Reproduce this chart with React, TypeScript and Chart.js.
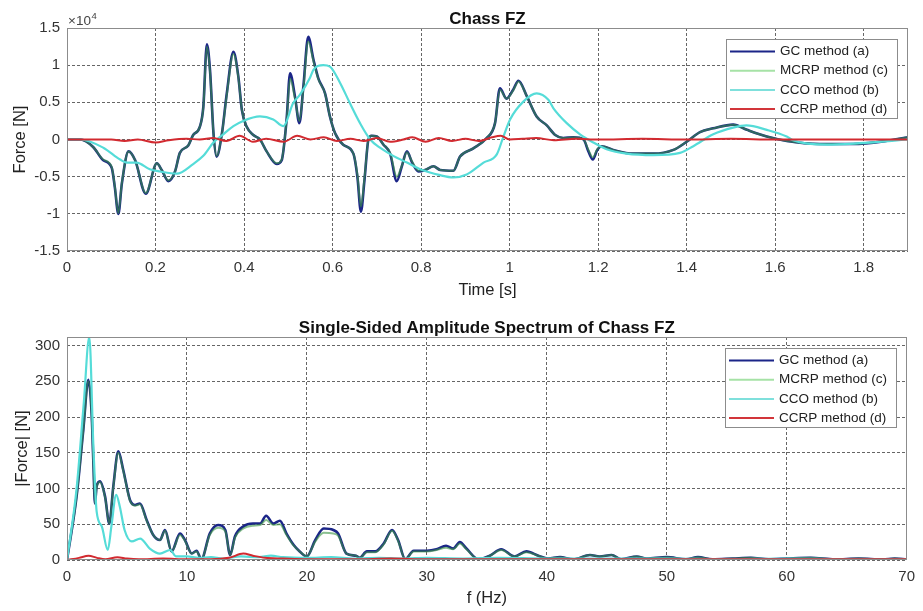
import React, { useEffect, useRef } from "react";
import { Chart, registerables } from "chart.js";

Chart.register(...registerables);

const FONT = '"Liberation Sans", Arial, Helvetica, sans-serif';

// ---------- Top chart: Chass FZ (force in units of 1e4 N) ----------
const timeTicks = [0, 0.2, 0.4, 0.6, 0.8, 1, 1.2, 1.4, 1.6, 1.8];
const forceTicks = [-1.5, -1, -0.5, 0, 0.5, 1, 1.5];

const gcTime = [
  0, 0.03, 0.059, 0.082, 0.101, 0.108, 0.116, 0.124, 0.139, 0.154, 0.178, 0.203, 0.214, 0.229, 0.244, 0.255,
  0.274, 0.285, 0.3, 0.308, 0.316, 0.323, 0.331, 0.338, 0.35, 0.361, 0.376, 0.387, 0.395, 0.406, 0.421, 0.436,
  0.451, 0.474, 0.485, 0.496, 0.504, 0.515, 0.525, 0.534, 0.545, 0.557, 0.568, 0.583, 0.594, 0.606, 0.624, 0.647,
  0.656, 0.664, 0.672, 0.681, 0.688, 0.7, 0.715, 0.73, 0.745, 0.756, 0.768, 0.779, 0.794, 0.809, 0.828, 0.843,
  0.873, 0.888, 0.918, 0.948, 0.967, 0.978, 0.993, 1.008, 1.02, 1.039, 1.061, 1.084, 1.103, 1.121, 1.144, 1.167,
  1.178, 1.188, 1.198, 1.208, 1.234, 1.279, 1.325, 1.37, 1.4, 1.43, 1.46, 1.505, 1.536, 1.581, 1.626, 1.7,
  1.776, 1.85, 1.9,
];
const gcForce = [
  0, 0, -0.1, -0.28, -0.38, -0.64, -1.0, -0.59, -0.16, -0.28, -0.73, -0.32, -0.41, -0.56, -0.43, -0.18,
  -0.08, 0.06, 0.17, 0.44, 1.28, 0.94, 0.08, -0.23, 0.08, 0.62, 1.18, 0.85, 0.4, 0.17, 0.06, 0.0,
  -0.16, -0.33, -0.28, 0.26, 0.89, 0.58, 0.22, 0.71, 1.38, 1.07, 0.82, 0.62, 0.31, 0.08, -0.07, -0.19,
  -0.5, -0.97, -0.55, 0.0, 0.05, 0.04, -0.07, -0.19, -0.56, -0.37, -0.16, -0.3, -0.43, -0.41, -0.36, -0.41,
  -0.42, -0.23, -0.12, 0.02, 0.22, 0.69, 0.55, 0.67, 0.79, 0.58, 0.31, 0.19, 0.06, 0.02, 0.03, 0.0,
  -0.16, -0.27, -0.14, -0.09, -0.14, -0.19, -0.19, -0.14, -0.03, 0.1, 0.15, 0.2, 0.13, 0.04, -0.02, -0.06,
  -0.06, -0.02, 0.03,
];
const mcrpForce = [
  0, 0, -0.1, -0.27, -0.37, -0.63, -0.99, -0.58, -0.16, -0.28, -0.72, -0.32, -0.41, -0.55, -0.43, -0.18,
  -0.08, 0.06, 0.17, 0.43, 1.25, 0.92, 0.08, -0.22, 0.08, 0.6, 1.15, 0.84, 0.4, 0.17, 0.06, 0.0,
  -0.16, -0.32, -0.27, 0.25, 0.82, 0.55, 0.25, 0.68, 1.32, 1.05, 0.81, 0.62, 0.31, 0.08, -0.07, -0.19,
  -0.47, -0.9, -0.52, 0.0, 0.05, 0.04, -0.07, -0.18, -0.5, -0.36, -0.17, -0.29, -0.42, -0.41, -0.36, -0.41,
  -0.42, -0.23, -0.12, 0.02, 0.22, 0.67, 0.55, 0.66, 0.78, 0.58, 0.31, 0.19, 0.06, 0.02, 0.03, 0.0,
  -0.14, -0.24, -0.13, -0.09, -0.14, -0.19, -0.19, -0.14, -0.03, 0.1, 0.15, 0.2, 0.13, 0.04, -0.02, -0.06,
  -0.06, -0.02, 0.03,
];
const ccoTime = [
  0, 0.03, 0.082, 0.12, 0.135, 0.157, 0.187, 0.21, 0.248, 0.285, 0.308, 0.331, 0.353, 0.376, 0.398, 0.436,
  0.466, 0.489, 0.511, 0.526, 0.549, 0.557, 0.579, 0.594, 0.617, 0.639, 0.662, 0.685, 0.707, 0.737, 0.768, 0.798,
  0.843, 0.873, 0.903, 0.941, 0.971, 0.986, 1.001, 1.031, 1.061, 1.088, 1.099, 1.129, 1.159, 1.189, 1.219, 1.264,
  1.325, 1.385, 1.415, 1.46, 1.505, 1.535, 1.581, 1.626, 1.64, 1.717, 1.79, 1.9,
];
const ccoForce = [
  0, 0, -0.11, -0.27, -0.31, -0.31, -0.4, -0.43, -0.46, -0.33, -0.22, -0.04, 0.07, 0.18, 0.25, 0.31,
  0.27, 0.18, 0.49, 0.6, 0.83, 0.94, 1.0, 0.98, 0.76, 0.49, 0.22, 0.0, -0.11, -0.22, -0.31, -0.4,
  -0.48, -0.51, -0.47, -0.31, -0.2, 0.04, 0.27, 0.51, 0.62, 0.53, 0.42, 0.22, 0.07, -0.04, -0.13, -0.19,
  -0.21, -0.18, -0.09, 0.07, 0.16, 0.19, 0.13, 0.04, -0.01, -0.07, -0.05, 0.0,
];
const ccrpTime = [
  0, 0.1, 0.13, 0.16, 0.2, 0.23, 0.27, 0.3, 0.33, 0.36, 0.39, 0.42, 0.45, 0.49, 0.52, 0.55,
  0.58, 0.61, 0.64, 0.67, 0.7, 0.73, 0.76, 0.78, 0.81, 0.84, 0.87, 0.9, 0.93, 0.96, 0.98, 1.0,
  1.03, 1.06, 1.1, 1.15, 1.2, 1.3, 1.4, 1.5, 1.6, 1.7, 1.8, 1.9,
];
const ccrpForce = [
  0, 0, -0.02, 0.0, -0.04, -0.01, 0.01, 0.0, 0.02, -0.02, 0.05, -0.03, 0.01, -0.03, 0.05, 0.0,
  0.03, -0.02, 0.01, -0.02, 0.02, -0.03, 0.0, 0.03, -0.03, 0.02, -0.02, 0.01, -0.02, 0.03, 0.05, 0.0,
  0.01, 0.02, -0.01, 0.01, 0.0, 0.01, 0.0, 0.01, 0.0, 0.0, 0.0, 0.0,
];

// ---------- Bottom chart: amplitude spectrum ----------
const freqTicks = [0, 10, 20, 30, 40, 50, 60, 70];
const ampTicks = [0, 50, 100, 150, 200, 250, 300];

const gcFreq = [
  0, 0.8, 1.36, 1.78, 2.05, 2.2, 2.33, 2.47, 2.75, 3.17, 3.53, 3.86, 4.28, 4.69, 5.25, 5.67,
  6.08, 6.64, 7.19, 7.75, 8.17, 8.72, 9.42, 9.83, 10.4, 10.8, 11.2, 11.9, 12.6, 13.2, 13.6, 14.0,
  14.7, 15.5, 16.1, 16.6, 17.2, 17.75, 18.3, 18.9, 19.4, 20.0, 20.7, 21.4, 22.2, 22.6, 23.3, 24.1,
  24.4, 25.0, 25.7, 26.4, 27.1, 27.6, 28.2, 28.9, 30.0, 30.8, 31.6, 32.2, 32.75, 33.3, 34.3, 35.25,
  36.2, 37.3, 38.3, 39.3, 40.1, 41.1, 42.2, 43.6, 44.4, 45.4, 46.2, 47.5, 48.3, 50, 51.6, 52.6,
  53.8, 55.5, 57, 58.5, 60, 62, 64, 66, 68, 69, 70,
];
const gcAmp = [
  0, 89, 182, 252, 206, 135, 79, 103, 110, 89, 51, 103, 152, 126, 84, 77,
  79, 56, 35, 28, 42, 12, 37, 28, 9, 13, 1, 37, 49, 42, 7, 33,
  47, 51, 51, 62, 51, 55, 37, 21, 12, 5, 28, 44, 42, 37, 9, 6,
  3, 12, 12, 23, 42, 28, 1, 13, 13, 15, 20, 16, 25, 16, 1, 6,
  15, 5, 12, 6, 2, 4, 1, 7, 5, 7, 1, 5, 2, 4, 1, 4,
  1, 2, 3, 1, 2, 3, 1, 2, 1, 2, 1,
];
const mcrpAmp = [
  0, 89, 182, 250, 205, 135, 79, 102, 109, 88, 51, 102, 150, 125, 83, 76,
  78, 55, 35, 28, 41, 12, 35, 27, 9, 12, 1, 35, 45, 40, 7, 31,
  44, 48, 49, 56, 49, 50, 35, 20, 12, 5, 26, 38, 37, 34, 9, 6,
  3, 11, 11, 22, 41, 27, 1, 12, 12, 14, 17, 15, 23, 15, 1, 6,
  14, 5, 11, 6, 2, 4, 1, 7, 5, 7, 1, 5, 2, 4, 1, 4,
  1, 2, 3, 1, 2, 3, 1, 2, 1, 2, 1,
];
const ccoFreq = [
  0, 0.8, 1.4, 1.86, 2.2, 2.47, 2.9, 3.4, 3.7, 4.1, 4.4, 4.8, 5.4, 6.1, 6.9, 7.75,
  8.6, 9.1, 10, 11, 12, 13, 14.5, 16, 17, 18, 20, 22, 24, 26, 28, 30,
  33, 36, 40, 45, 50, 55, 60, 65, 70,
];
const ccoAmp = [
  0, 100, 220, 312, 159, 68, 47, 14, 47, 91, 75, 42, 26, 30, 16, 9,
  14, 5, 5, 3, 4, 2, 5, 4, 6, 4, 3, 4, 2, 3, 2, 3,
  2, 3, 2, 2, 2, 1, 2, 1, 1,
];
const ccrpFreq = [0, 1.0, 1.8, 2.5, 3.2, 4.2, 5.0, 6, 8, 10, 12, 13.5, 14.7, 15.5, 16.5, 18, 20, 24, 27, 30, 40, 50, 60, 70];
const ccrpAmp = [0, 3, 6, 3, 1, 4, 2, 1, 2, 1, 1, 3, 9, 6, 3, 2, 1, 1, 2, 1, 1, 1, 1, 1];

const seriesNames = ["GC method (a)", "MCRP method (c)", "CCO method (b)", "CCRP method (d)"];
const seriesColors = ["#1b2588", "rgba(60,150,70,0.6)", "#55dcd8", "#d22a30"];
const legendColors = ["#1b2588", "#a6e2a6", "#7fe0dc", "#d2353a"];
const seriesWidths = [2.6, 2, 2.2, 2];

const toPts = (xs: number[], ys: number[]) => xs.map((x, i) => ({ x, y: ys[i] }));

function makeDatasets(groups: { x: number[]; y: number[] }[]) {
  return groups.map((g, i) => ({
    label: seriesNames[i],
    data: toPts(g.x, g.y),
    borderColor: seriesColors[i],
    backgroundColor: seriesColors[i],
    borderWidth: seriesWidths[i],
    pointRadius: 0,
    fill: false,
    cubicInterpolationMode: "monotone" as const,
    order: 4 - i,
  }));
}

function framePlugin(title: string, exponent: boolean) {
  return {
    id: "frameLegend",
    afterDraw(chart: any) {
      const { ctx, chartArea: a } = chart;
      ctx.save();
      // box
      ctx.strokeStyle = "#8c8c8c";
      ctx.lineWidth = 1;
      ctx.strokeRect(Math.round(a.left) + 0.5, Math.round(a.top) + 0.5, Math.round(a.right - a.left) - 1, Math.round(a.bottom - a.top) - 1);
      // title
      ctx.fillStyle = "#111";
      ctx.font = `bold 17px ${FONT}`;
      ctx.textAlign = "center";
      ctx.textBaseline = "alphabetic";
      ctx.fillText(title, (a.left + a.right) / 2, a.top - 4);
      // exponent
      if (exponent) {
        ctx.fillStyle = "#444";
        ctx.textAlign = "left";
        ctx.font = `13.5px ${FONT}`;
        ctx.fillText("\u00d710", a.left + 1, a.top - 3);
        const w = ctx.measureText("\u00d710").width;
        ctx.font = `9.5px ${FONT}`;
        ctx.fillText("4", a.left + 1 + w + 0.5, a.top - 9);
      }
      // legend
      const bw = 171;
      const bh = 79;
      const bx = Math.round(a.right - 11 - bw);
      const by = Math.round(a.top + 11);
      ctx.fillStyle = "#fff";
      ctx.fillRect(bx, by, bw, bh);
      ctx.strokeStyle = "#8c8c8c";
      ctx.lineWidth = 1;
      ctx.strokeRect(bx + 0.5, by + 0.5, bw, bh);
      ctx.font = `13.5px ${FONT}`;
      ctx.textBaseline = "middle";
      ctx.textAlign = "left";
      seriesNames.forEach((name, i) => {
        const cy = by + 12.5 + i * 19.2;
        ctx.strokeStyle = legendColors[i];
        ctx.lineWidth = 2;
        ctx.beginPath();
        ctx.moveTo(bx + 4, cy);
        ctx.lineTo(bx + 49, cy);
        ctx.stroke();
        ctx.fillStyle = "#222";
        ctx.fillText(name, bx + 54, cy);
      });
      ctx.restore();
    },
  };
}

function axisOpts(p: {
  min: number;
  max: number;
  ticks: number[];
  title: string;
  isX: boolean;
  size: number;
  titlePad: number;
}) {
  return {
    type: "linear" as const,
    min: p.min,
    max: p.max,
    afterBuildTicks: (s: any) => {
      s.ticks = p.ticks.map((v) => ({ value: v }));
    },
    afterFit: (s: any) => {
      if (p.isX) s.height = p.size;
      else s.width = p.size;
    },
    grid: { color: "rgba(0,0,0,0.6)", lineWidth: 1, drawTicks: false },
    border: { display: false, dash: [3, 2] },
    ticks: {
      padding: p.isX ? 8 : 7,
      color: "#333",
      autoSkip: false,
      maxRotation: 0,
      font: { family: FONT, size: 15 },
      callback: (v: any) => String(v),
    },
    title: {
      display: true,
      text: p.title,
      color: "#222",
      font: { family: FONT, size: 16.5 },
      padding: p.isX ? { top: 0, bottom: p.titlePad } : { top: p.titlePad, bottom: 0 },
    },
  };
}

function PlotCanvas({ top, height, build }: { top: number; height: number; build: () => any }) {
  const ref = useRef<HTMLCanvasElement>(null);
  useEffect(() => {
    const chart = new Chart(ref.current as HTMLCanvasElement, build());
    return () => chart.destroy();
  }, []);
  return (
    <canvas
      ref={ref}
      width={923}
      height={height}
      style={{ position: "absolute", left: 0, top, width: 923, height }}
    />
  );
}

function buildTop() {
  return {
    type: "line",
    data: {
      datasets: makeDatasets([
        { x: gcTime, y: gcForce },
        { x: gcTime, y: mcrpForce },
        { x: ccoTime, y: ccoForce },
        { x: ccrpTime, y: ccrpForce },
      ]),
    },
    options: {
      responsive: false,
      animation: false,
      devicePixelRatio: 1,
      layout: { padding: { top: 28, right: 15, left: 0, bottom: 0 } },
      plugins: { legend: { display: false }, tooltip: { enabled: false }, title: { display: false } },
      scales: {
        x: axisOpts({ min: 0, max: 1.9, ticks: timeTicks, title: "Time [s]", isX: true, size: 49, titlePad: 0 }),
        y: axisOpts({ min: -1.5, max: 1.5, ticks: forceTicks, title: "Force [N]", isX: false, size: 67, titlePad: 11 }),
      },
    },
    plugins: [framePlugin("Chass FZ", true)],
  };
}

function buildBottom() {
  return {
    type: "line",
    data: {
      datasets: makeDatasets([
        { x: gcFreq, y: gcAmp },
        { x: gcFreq, y: mcrpAmp },
        { x: ccoFreq, y: ccoAmp },
        { x: ccrpFreq, y: ccrpAmp },
      ]),
    },
    options: {
      responsive: false,
      animation: false,
      devicePixelRatio: 1,
      layout: { padding: { top: 37, right: 15, left: 0, bottom: 0 } },
      plugins: { legend: { display: false }, tooltip: { enabled: false }, title: { display: false } },
      scales: {
        x: axisOpts({ min: 0, max: 70, ticks: freqTicks, title: "f (Hz)", isX: true, size: 51, titlePad: 3 }),
        y: axisOpts({ min: 0, max: 312, ticks: ampTicks, title: "|Force| [N]", isX: false, size: 67, titlePad: 13 }),
      },
    },
    plugins: [framePlugin("Single-Sided Amplitude Spectrum of Chass FZ", false)],
  };
}

export default function App() {
  return (
    <div style={{ position: "fixed", left: 0, top: 0, width: 923, height: 611, background: "#fff" }}>
      <PlotCanvas top={0} height={300} build={buildTop} />
      <PlotCanvas top={300} height={311} build={buildBottom} />
    </div>
  );
}
